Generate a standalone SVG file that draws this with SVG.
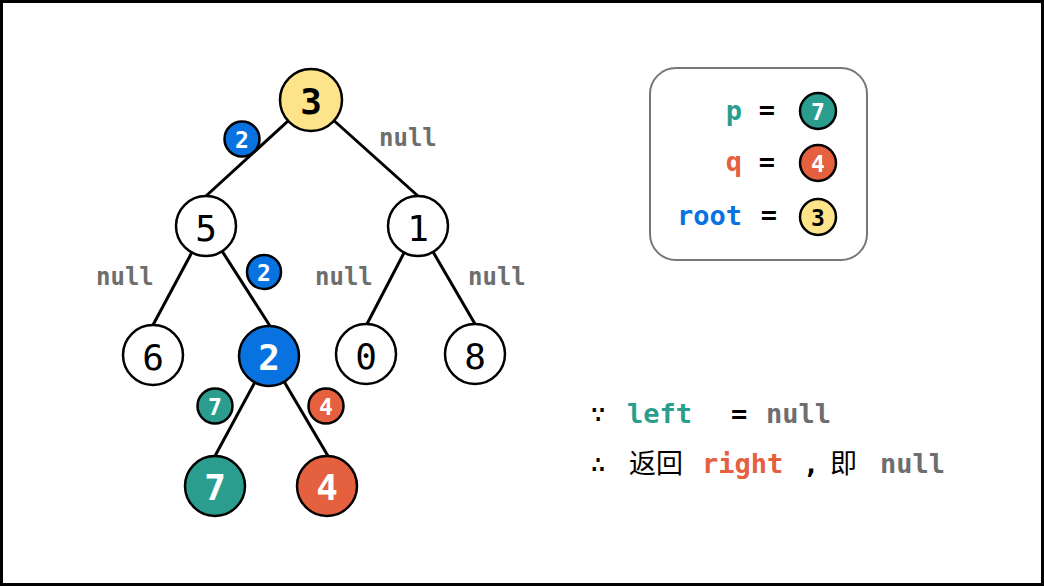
<svg xmlns="http://www.w3.org/2000/svg" width="1044" height="586" viewBox="0 0 1044 586">
<style>
.n{stroke:#000;stroke-width:2.5}
.w{fill:#fff}
.t{font-family:"DejaVu Sans Mono","Liberation Mono",monospace;text-anchor:middle;dominant-baseline:central}
.big{font-size:36px}
.sm{font-size:23px;font-weight:bold}
.null{font-family:"DejaVu Sans Mono","Liberation Mono",monospace;font-size:24px;font-weight:bold;fill:#6e6e6e}
.m{font-family:"DejaVu Sans Mono","Liberation Mono","Noto Sans CJK SC",monospace;font-size:27px}
.b{font-weight:bold}
.e{stroke:#000;stroke-width:3;fill:none}
</style>
<rect x="1.5" y="1.5" width="1041" height="583" fill="#fff" stroke="#000" stroke-width="3"/>
<g id="connectors">
<line class="e" x1="311" y1="100" x2="206" y2="196"/>
<line class="e" x1="311" y1="100" x2="418" y2="196"/>
<line class="e" x1="206" y1="226" x2="153" y2="325"/>
<line class="e" x1="206" y1="226" x2="270" y2="326"/>
<line class="e" x1="418" y1="226" x2="367" y2="324"/>
<line class="e" x1="418" y1="226" x2="475" y2="324"/>
<line class="e" x1="269" y1="356" x2="215" y2="456"/>
<line class="e" x1="269" y1="356" x2="328" y2="456"/>
</g>
<g id="node-3"><circle class="n" cx="311" cy="100" r="31" fill="#fde38a"/><text class="t big" x="311" y="101" font-weight="bold">3</text></g>
<g id="node-5"><circle class="n w" cx="206" cy="226" r="30"/><text class="t big" x="206" y="228">5</text></g>
<g id="node-1"><circle class="n w" cx="418" cy="226" r="30"/><text class="t big" x="418" y="228">1</text></g>
<g id="node-6"><circle class="n w" cx="153" cy="355" r="30"/><text class="t big" x="153" y="357">6</text></g>
<g id="node-2"><circle class="n" cx="269" cy="356" r="30" fill="#0873e0"/><text class="t big" x="269" y="357" font-weight="bold" fill="#fff">2</text></g>
<g id="node-0"><circle class="n w" cx="366" cy="354" r="30"/><text class="t big" x="366" y="356">0</text></g>
<g id="node-8"><circle class="n w" cx="475" cy="354" r="30"/><text class="t big" x="475" y="356">8</text></g>
<g id="node-7"><circle class="n" cx="215" cy="486" r="30" fill="#2a9d8f"/><text class="t big" x="215" y="487" font-weight="bold" fill="#fff">7</text></g>
<g id="node-4"><circle class="n" cx="327" cy="486" r="30" fill="#e5603e"/><text class="t big" x="327" y="487" font-weight="bold" fill="#fff">4</text></g>
<g id="badges">
<circle class="n" cx="242" cy="139" r="17.5" fill="#0873e0"/><text class="t sm" x="242" y="140" fill="#fff">2</text>
<circle class="n" cx="264" cy="272" r="17" fill="#0873e0"/><text class="t sm" x="264" y="273" fill="#fff">2</text>
<circle class="n" cx="215" cy="406" r="17.5" fill="#2a9d8f"/><text class="t sm" x="215" y="407" fill="#fff">7</text>
<circle class="n" cx="326" cy="406" r="17.5" fill="#e5603e"/><text class="t sm" x="326" y="407" fill="#fff">4</text>
</g>
<g id="null-labels">
<text class="null" x="379" y="146">null</text>
<text class="null" x="96" y="285">null</text>
<text class="null" x="315" y="285">null</text>
<text class="null" x="468" y="285">null</text>
</g>
<g id="legend">
<rect x="650" y="68" width="217" height="192" rx="26" fill="#fff" stroke="#777" stroke-width="2"/>
<text class="m b" x="742" y="120" text-anchor="end" fill="#2a9d8f">p</text>
<text class="m b" x="767" y="119" text-anchor="middle">=</text>
<circle class="n" cx="818" cy="111" r="18" fill="#2a9d8f"/><text class="t sm" x="818" y="112" fill="#fff">7</text>
<text class="m b" x="742" y="171" text-anchor="end" fill="#e5603e">q</text>
<text class="m b" x="767" y="171" text-anchor="middle">=</text>
<circle class="n" cx="818" cy="163" r="18" fill="#e5603e"/><text class="t sm" x="818" y="164" fill="#fff">4</text>
<text class="m b" x="742" y="225" text-anchor="end" fill="#0873e0">root</text>
<text class="m b" x="769" y="224" text-anchor="middle">=</text>
<circle class="n" cx="818" cy="217" r="18" fill="#fde38a"/><text class="t sm" x="818" y="218" fill="#000">3</text>
</g>
<g id="explanation">
<text class="m" x="590" y="423">∵</text>
<text class="m b" x="627" y="423" fill="#2a9d8f">left</text>
<text class="m b" x="731" y="423">=</text>
<text class="m b" x="766" y="423" fill="#6e6e6e">null</text>
<text class="m" x="590" y="473">∴</text>
<text class="m" x="629" y="473">返回</text>
<text class="m b" x="702" y="473" fill="#e5603e">right</text>
<text class="m b" x="803" y="473">,</text>
<text class="m" x="830" y="473">即</text>
<text class="m b" x="880" y="473" fill="#6e6e6e">null</text>
</g>
</svg>
